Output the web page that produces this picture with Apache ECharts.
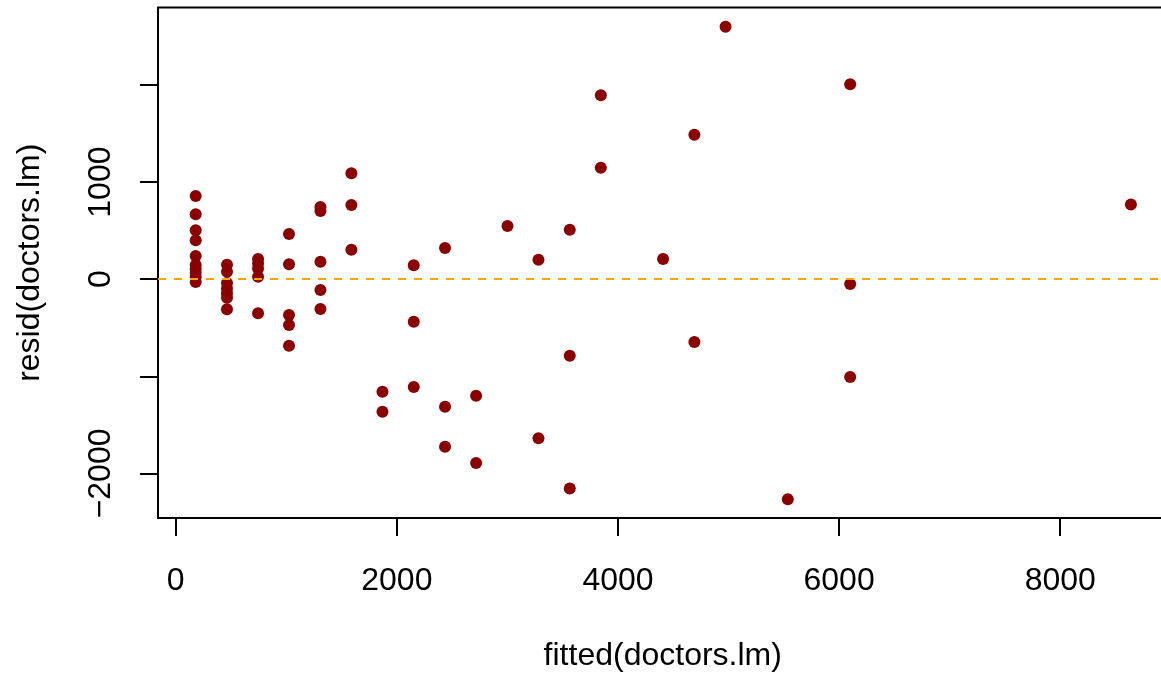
<!DOCTYPE html>
<html>
<head>
<meta charset="utf-8">
<script src="https://cdn.jsdelivr.net/npm/echarts@6/dist/echarts.min.js"></script>
<style>
html,body{margin:0;padding:0;background:#fff;}
#chart{width:1161px;height:674px;}
</style>
</head>
<body>
<div id="chart"></div>
<script>
// Fitted values (x) and residuals (y)
const fitted = [
  181,181,181,181,181,181,181,181,181,181,
  464,464,464,464,464,464,464,
  745,745,745,745,745,
  1025,1025,1025,1025,1025,
  1309,1309,1309,1309,1309,
  1589,1589,1589,
  1870,1870,
  2153,2153,2153,
  2436,2436,2436,
  2717,2717,
  3001,
  3281,3281,
  3564,3564,3564,
  3845,3845,
  4408,
  4691,4691,
  4973,
  5536,
  6100,6100,6100,
  8639
];
const resid = [
  857,668,504,401,239,146,105,64,23,-29,
  149,77,-40,-95,-145,-190,-310,
  208,162,110,26,-351,
  465,153,-369,-472,-685,
  744,702,180,-111,-307,
  1091,764,304,
  -1158,-1364,
  143,-438,-1110,
  321,-1313,-1725,
  -1200,-1893,
  548,
  201,-1638,
  510,-788,-2155,
  1894,1148,
  208,
  1488,-647,
  2600,
  -2267,
  2007,-49,-1007,
  770
];
const xTicks = [0, 2000, 4000, 6000, 8000];
const yTicks = [-2000, -1000, 0, 1000, 2000];
const yLabels = [-2000, 0, 1000];
const xTitle = 'fitted(doctors.lm)';
const yTitle = 'resid(doctors.lm)';

const points = fitted.map((x, i) => [x, resid[i]]);
const FONT = '"Liberation Sans", Arial, Helvetica, sans-serif';

const chart = echarts.init(document.getElementById('chart'), null, {renderer: 'canvas'});
chart.setOption({
  animation: false,
  backgroundColor: '#ffffff',
  grid: {
    left: 158, top: 7.4, width: 1009.5, height: 510.6,
    containLabel: false, outerBoundsMode: 'none',
    show: true, borderColor: '#000', borderWidth: 2, backgroundColor: 'transparent'
  },
  xAxis: {
    type: 'value', min: -160, max: 8970,
    axisLine: {show: false, onZero: false},
    splitLine: {show: false},
    axisTick: {show: true, customValues: xTicks, length: 18, lineStyle: {color: '#000', width: 2}},
    axisLabel: {
      customValues: xTicks, fontSize: 32, color: '#000', fontFamily: FONT, margin: 47,
      formatter: v => String(v).replace('-', '\u2212')
    },
    name: xTitle, nameLocation: 'middle', nameGap: 122,
    nameTextStyle: {fontSize: 32, color: '#000', fontFamily: FONT}
  },
  yAxis: {
    type: 'value', min: -2459, max: 2799,
    axisLine: {show: false, onZero: false},
    splitLine: {show: false},
    axisTick: {show: true, customValues: yTicks, length: 18, lineStyle: {color: '#000', width: 2}},
    axisLabel: {
      customValues: yLabels, rotate: 90, fontSize: 32, color: '#000', fontFamily: FONT, margin: 41,
      formatter: v => String(v).replace('-', '\u2212')
    },
    name: yTitle, nameLocation: 'middle', nameGap: 112,
    nameTextStyle: {fontSize: 32, color: '#000', fontFamily: FONT}
  },
  series: [{
    type: 'scatter',
    data: points,
    symbol: 'circle',
    symbolSize: 12,
    itemStyle: {color: '#8B0000', opacity: 1},
    markLine: {
      silent: true,
      symbol: ['none', 'none'],
      label: {show: false},
      lineStyle: {color: '#FFA500', type: [8, 8], width: 2, opacity: 1},
      data: [{yAxis: 0}]
    }
  }]
});
</script>
</body>
</html>
